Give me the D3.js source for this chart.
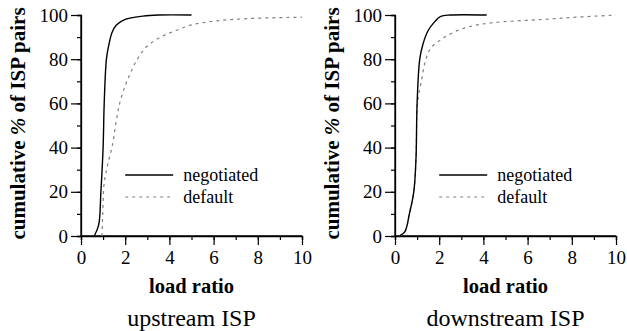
<!DOCTYPE html>
<html>
<head>
<meta charset="utf-8">
<script src="https://cdn.jsdelivr.net/npm/d3@7"></script>
<style>
  body { margin: 0; background: #fff; }
  svg text { font-family: 'Liberation Serif'; }
</style>
</head>
<body>
<svg width="627" height="331"></svg>
<script>
// upstream ISP
var upNegRatio = [0.6, 0.8, 0.9, 1.0, 1.05, 1.15, 1.25, 1.4, 1.6, 2.0, 2.8, 3.5, 5.0];
var upNegPct   = [0, 5, 20, 40, 60, 80, 86, 92, 95.5, 98, 99.5, 100, 100];
var upDefRatio = [0.95, 1.0, 1.05, 1.2, 1.42, 1.58, 1.75, 2.0, 2.25, 2.55, 2.95, 3.6, 4.3, 5.0, 6.1, 7.6, 10];
var upDefPct   = [0, 15, 24, 32, 41, 51, 60, 68, 74, 80, 85.5, 90, 93, 95.5, 97.3, 98.4, 99];

// downstream ISP
var downNegRatio = [0.2, 0.45, 0.65, 0.85, 0.95, 1.0, 1.12, 1.27, 1.5, 1.8, 2.05, 2.5, 4.15];
var downNegPct   = [0, 2, 10, 20, 35, 60, 80, 87, 93, 97, 99.3, 100, 100];
var downDefRatio = [0.2, 0.45, 0.65, 0.85, 0.95, 1.02, 1.19, 1.4, 1.62, 2.1, 2.7, 3.4, 4.4, 6.7, 8.2, 10];
var downDefPct   = [0, 2, 10, 20, 35, 60, 70, 80, 85, 89, 92.4, 94.8, 96.5, 98, 99, 100];

var xTicks = [0, 2, 4, 6, 8, 10];
var yTicks = [0, 20, 40, 60, 80, 100];
var seriesNames = ["negotiated", "default"];

function zip(xs, ys) {
  return xs.map(function(x, i) { return [x, ys[i]]; });
}

var svg = d3.select("svg");

function panel(left, title, negData, defData) {
  var w = 221, h = 221, top = 15;
  var g = svg.append("g").attr("transform", "translate(" + left + "," + top + ")");

  var x = d3.scaleLinear().domain([0, 10]).range([0, w]);
  var y = d3.scaleLinear().domain([0, 100]).range([h, 0]);

  // minor ticks
  g.append("g").attr("transform", "translate(0," + h + ")")
    .call(d3.axisBottom(x).ticks(10).tickSize(4).tickFormat(""));
  g.append("g")
    .call(d3.axisLeft(y).ticks(10).tickSize(4).tickFormat(""));

  var gx = g.append("g").attr("transform", "translate(0," + h + ")")
    .call(d3.axisBottom(x).tickValues(xTicks).tickSize(9).tickPadding(5.5));
  var gy = g.append("g")
    .call(d3.axisLeft(y).tickValues(yTicks).tickSize(10).tickPadding(3));

  g.selectAll("g").attr("font-family", null);
  g.selectAll(".domain").attr("stroke-width", 1.3);
  g.selectAll(".tick line").attr("stroke-width", 1.2);
  g.selectAll(".tick text").attr("font-size", 19);
  gx.select(".domain").attr("d", "M0,0H" + w);
  gy.select(".domain").attr("d", "M0," + h + "V0");

  var line = d3.line()
    .x(function(d) { return x(d[0]); })
    .y(function(d) { return y(d[1]); })
    .curve(d3.curveCatmullRom.alpha(0.5));

  g.append("path").datum(defData)
    .attr("d", line).attr("fill", "none")
    .attr("stroke", "#808080").attr("stroke-width", 1.2)
    .attr("stroke-dasharray", "3,4");

  g.append("path").datum(negData)
    .attr("d", line).attr("fill", "none")
    .attr("stroke", "#000").attr("stroke-width", 1.4);

  // legend
  var lg = g.append("g").attr("transform", "translate(" + x(2) + "," + y(27.6) + ")");
  seriesNames.forEach(function(name, i) {
    var row = lg.append("g").attr("transform", "translate(0," + (i * 22) + ")");
    row.append("line").attr("x1", 0).attr("x2", 48)
      .attr("stroke", i === 0 ? "#000" : "#808080")
      .attr("stroke-width", i === 0 ? 1.4 : 1.2)
      .attr("stroke-dasharray", i === 0 ? null : "3,4");
    row.append("text").attr("x", 58).attr("y", 6)
      .attr("font-size", 18).text(name);
  });

  // axis titles
  g.append("text")
    .attr("x", w / 2).attr("y", h + 57)
    .attr("text-anchor", "middle")
    .attr("font-size", 20.5).attr("font-weight", "bold")
    .text("load ratio");

  var yl = g.append("text")
    .attr("transform", "translate(-56.5," + (h / 2 - 2) + ") rotate(-90)")
    .attr("text-anchor", "middle")
    .attr("font-size", 21).attr("font-weight", "bold");
  yl.append("tspan").text("cumulative ");
  yl.append("tspan").attr("font-style", "italic").text("%");
  yl.append("tspan").text(" of ISP pairs");

  g.append("text")
    .attr("x", w / 2).attr("y", h + 90)
    .attr("text-anchor", "middle")
    .attr("font-size", 24)
    .text(title);
}

panel(81, "upstream ISP", zip(upNegRatio, upNegPct), zip(upDefRatio, upDefPct));
panel(395, "downstream ISP", zip(downNegRatio, downNegPct), zip(downDefRatio, downDefPct));
</script>
</body>
</html>
